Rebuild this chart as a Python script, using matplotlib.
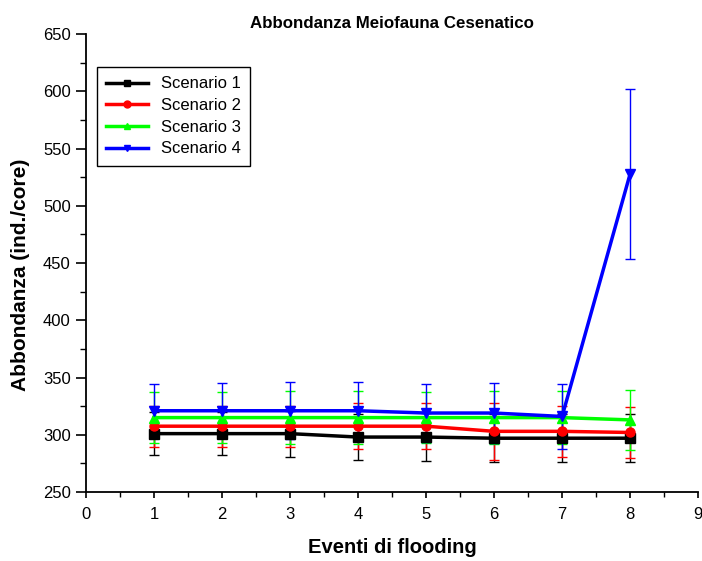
import matplotlib
matplotlib.use('Agg')
from matplotlib import pyplot as plt
from matplotlib.lines import Line2D
from matplotlib.ticker import MultipleLocator

plt.rcParams['font.family'] = ['Liberation Sans', 'DejaVu Sans']

eventi = [1, 2, 3, 4, 5, 6, 7, 8]
scen1 = [301, 301, 301, 298, 298, 297, 297, 297]
scen2 = [307.5, 307.5, 307.5, 307.5, 307.5, 303, 303, 302]
scen3 = [315, 315, 315, 315, 315, 315, 315, 313]
scen4 = [321, 321, 321, 321, 319, 319, 316, 528]
err1 = [19, 19, 20, 20, 21, 21, 21, 21]
err2 = [18, 18, 18, 20, 20, 25, 22, 22]
err3 = [22, 22, 23, 23, 22, 23, 23, 26]
err4 = [23, 24, 25, 25, 25, 26, 28, 74]

serie = [
    ('Scenario 1', scen1, err1, 'black', 's'),
    ('Scenario 2', scen2, err2, 'red', 'o'),
    ('Scenario 3', scen3, err3, '#00ff00', '^'),
    ('Scenario 4', scen4, err4, 'blue', 'v'),
]

fig = plt.figure(figsize=(7.02, 5.61), dpi=100)
ax = fig.add_axes([0.1225, 0.123, 0.872, 0.816])

maniglie = []
for nome, y, e, col, mk in serie:
    ax.errorbar(eventi, y, yerr=e, color=col, lw=2.5, marker=mk, ms=6.5,
                ecolor=col, elinewidth=1, capsize=3.5, capthick=1)
    maniglie.append(Line2D([], [], color=col, lw=2.5, marker=mk, ms=5, label=nome))

ax.set_xlim(0, 9)
ax.set_ylim(250, 650)
ax.xaxis.set_major_locator(MultipleLocator(1))
ax.xaxis.set_minor_locator(MultipleLocator(0.5))
ax.yaxis.set_major_locator(MultipleLocator(50))
ax.yaxis.set_minor_locator(MultipleLocator(25))
ax.tick_params(axis='x', which='major', length=4.5, width=1.2, labelsize=12, pad=6.5)
ax.tick_params(axis='x', which='minor', length=3.5, width=1)
ax.tick_params(axis='y', which='major', length=7, width=1.2, labelsize=12, pad=4)
ax.tick_params(axis='y', which='minor', length=4.5, width=1)
ax.spines['top'].set_visible(False)
ax.spines['right'].set_visible(False)
ax.spines['left'].set_linewidth(1.3)
ax.spines['bottom'].set_linewidth(1.3)

ax.set_title('Abbondanza Meiofauna Cesenatico', fontsize=12.2, fontweight='bold', pad=4.5)
ax.set_xlabel('Eventi di flooding', fontsize=14.5, fontweight='bold')
ax.set_ylabel('Abbondanza (ind./core)', fontsize=15, fontweight='bold')
ax.xaxis.set_label_coords(0.5, -0.100)
ax.yaxis.set_label_coords(-0.0915, 0.474)

leg = ax.legend(handles=maniglie, loc='upper left', bbox_to_anchor=(0.018, 0.928),
                borderaxespad=0, fontsize=12, fancybox=False, edgecolor='black',
                framealpha=1, handlelength=2.5, borderpad=0.55, labelspacing=0.4)
leg.get_frame().set_linewidth(1)

fig.savefig('out.png', dpi=100)
